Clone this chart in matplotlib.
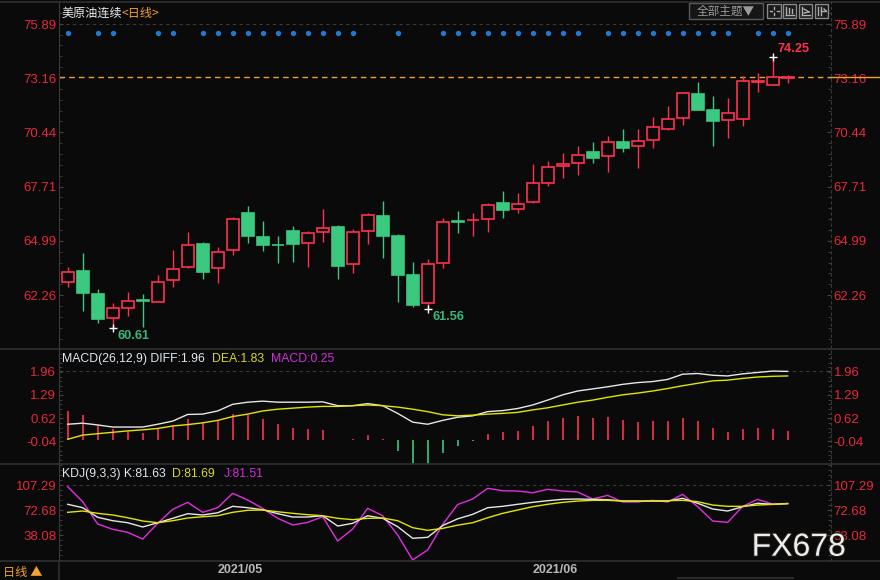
import numpy as np
import matplotlib.pyplot as plt
import matplotlib.patheffects as pe
from matplotlib.lines import Line2D
from matplotlib.patches import Rectangle
from matplotlib.ticker import FixedLocator, AutoMinorLocator

plt.rcParams['font.family'] = ['Liberation Sans', 'DejaVu Sans']
CJK = ['Noto Sans CJK SC', 'DejaVu Sans']

# ---- data ------------------------------------------------------------------
opens  = [62.94, 63.48, 62.30, 61.10, 61.60, 61.99, 61.93, 63.02, 63.66, 64.82,
          63.61, 64.52, 66.39, 65.17, 64.80, 65.49, 64.87, 65.42, 65.67, 63.81,
          65.47, 66.23, 65.22, 63.26, 61.85, 63.86, 65.97, 66.02, 66.11, 66.89,
          66.61, 66.96, 67.92, 68.74, 68.89, 69.46, 69.24, 69.96, 69.75, 70.05,
          70.60, 71.15, 72.37, 71.57, 71.05, 71.10, 73.00, 72.84, 73.20]
highs  = [63.69, 64.37, 62.57, 61.85, 62.40, 62.32, 63.27, 64.53, 65.45, 64.92,
          64.68, 66.19, 66.74, 65.99, 65.24, 65.74, 65.49, 66.59, 65.79, 65.59,
          66.41, 67.00, 65.32, 63.91, 64.08, 66.13, 66.49, 66.38, 66.91, 67.50,
          67.41, 68.86, 69.01, 69.39, 69.78, 69.96, 70.26, 70.61, 70.61, 71.22,
          71.77, 72.48, 72.98, 72.27, 72.17, 73.28, 73.42, 74.25, 73.32]
lows   = [62.69, 61.48, 60.88, 60.61, 61.23, 60.66, 61.90, 62.69, 63.64, 63.09,
          62.89, 64.28, 64.90, 64.50, 63.89, 63.94, 63.69, 64.95, 63.09, 63.36,
          64.85, 64.11, 61.93, 61.68, 61.56, 63.64, 65.40, 65.25, 65.45, 66.16,
          66.41, 66.91, 67.76, 68.17, 68.32, 68.91, 68.47, 69.46, 68.67, 69.67,
          70.58, 70.82, 71.57, 69.78, 70.18, 70.78, 72.49, 72.82, 72.95]
closes = [63.44, 62.38, 61.05, 61.60, 61.95, 61.95, 62.91, 63.56, 64.77, 63.44,
          64.42, 66.07, 65.25, 64.80, 64.76, 64.85, 65.37, 65.62, 63.74, 65.42,
          66.28, 65.25, 63.29, 61.78, 63.81, 65.95, 65.93, 66.06, 66.78, 66.56,
          66.83, 67.90, 68.69, 68.86, 69.31, 69.17, 69.95, 69.67, 70.00, 70.70,
          71.10, 72.41, 71.59, 71.03, 71.40, 73.03, 73.03, 73.21, 73.24]

signal_idx = [0, 2, 3, 6, 7, 9, 10, 11, 12, 13, 14, 15, 16, 17, 18, 19, 22, 25,
              26, 27, 28, 29, 30, 31, 32, 33, 34, 36, 37, 38, 39, 40, 41, 42,
              43, 44, 46, 47, 48]
low_marks = [3, 24]
high_marks = [47]

diff = [0.45, 0.48, 0.43, 0.37, 0.37, 0.37, 0.45, 0.54, 0.73, 0.74, 0.83, 1.02,
        1.08, 1.11, 1.08, 1.08, 1.08, 1.09, 0.98, 0.98, 1.04, 0.98, 0.76, 0.51,
        0.45, 0.56, 0.65, 0.69, 0.81, 0.84, 0.90, 1.00, 1.14, 1.29, 1.40, 1.46,
        1.52, 1.59, 1.64, 1.67, 1.73, 1.88, 1.90, 1.85, 1.83, 1.89, 1.93, 1.97, 1.96]
dea  = [0.02, 0.14, 0.18, 0.22, 0.26, 0.29, 0.33, 0.40, 0.44, 0.49, 0.56, 0.67,
        0.74, 0.83, 0.88, 0.91, 0.94, 0.96, 0.96, 0.98, 1.00, 0.98, 0.94, 0.88,
        0.81, 0.72, 0.69, 0.71, 0.74, 0.76, 0.79, 0.86, 0.92, 1.00, 1.08, 1.14,
        1.22, 1.29, 1.34, 1.40, 1.47, 1.55, 1.62, 1.69, 1.71, 1.76, 1.80, 1.82, 1.83]
macd = [0.83, 0.71, 0.43, 0.31, 0.26, 0.20, 0.31, 0.40, 0.60, 0.51, 0.57, 0.74,
        0.71, 0.60, 0.46, 0.34, 0.31, 0.29, -0.01, 0.03, 0.14, 0.03, -0.31, -0.68,
        -0.68, -0.36, -0.17, -0.02, 0.18, 0.23, 0.26, 0.40, 0.54, 0.63, 0.69, 0.63,
        0.66, 0.57, 0.51, 0.54, 0.54, 0.63, 0.54, 0.34, 0.23, 0.31, 0.34, 0.31, 0.25]

k_val = [80.6, 75.9, 62.6, 57.9, 55.1, 49.2, 55.1, 61.2, 67.6, 65.8, 68.9, 77.8,
         75.9, 73.1, 67.6, 63.0, 63.0, 64.8, 50.5, 54.3, 64.8, 61.2, 49.6, 33.5,
         34.9, 51.2, 60.5, 66.7, 75.9, 77.8, 80.6, 83.3, 85.6, 87.5, 87.9, 87.5,
         87.0, 85.1, 85.1, 85.1, 85.1, 88.9, 82.0, 74.1, 71.3, 77.3, 82.0, 80.6, 81.63]
d_val = [69.5, 71.3, 68.1, 65.8, 62.0, 57.5, 55.1, 57.9, 61.6, 63.4, 64.8, 69.5,
         72.3, 72.7, 70.3, 68.1, 66.2, 64.8, 61.2, 59.3, 61.2, 61.6, 57.9, 48.2,
         44.6, 47.3, 51.7, 55.1, 62.0, 68.1, 72.7, 77.3, 80.6, 83.3, 85.1, 86.1,
         86.1, 85.1, 85.1, 85.1, 85.6, 86.1, 84.2, 79.6, 77.8, 77.8, 79.6, 80.5, 81.69]
j_val = [105.0, 84.2, 53.3, 46.0, 41.8, 32.5, 54.3, 73.6, 83.3, 69.5, 75.9, 95.8,
         86.5, 75.0, 61.2, 51.9, 55.6, 63.4, 29.8, 46.4, 75.0, 64.8, 38.1, 3.5,
         17.3, 52.6, 80.3, 87.9, 102.7, 99.4, 99.0, 96.6, 101.3, 99.0, 97.6, 87.9,
         93.0, 83.8, 83.8, 86.1, 83.8, 94.4, 77.3, 57.5, 55.6, 77.8, 87.5, 80.8, 81.51]

price_ticks = [62.26, 64.99, 67.71, 70.44, 73.16, 75.89]
macd_ticks = [-0.04, 0.62, 1.29, 1.96]
kdj_ticks = [38.08, 72.68, 107.29]
date_pos = [10, 31]
date_labels = ['2021/05', '2021/06']

# ---- colours ---------------------------------------------------------------
BG = '#0a0a0a'
RED = '#ff3050'
GREEN = '#3bc87f'
AXRED = '#e6283c'
ORANGE = '#f0a030'
WHITE = '#e6e6e6'
YELLOW = '#e4e400'
MAGENTA = '#e030e0'
SEP = '#303030'

W, H = 880, 580


def box(x0, y0, x1, y1):
    return [x0 / W, 1 - y1 / H, (x1 - x0) / W, (y1 - y0) / H]


def fx(x):
    return x / W


def fy(y):
    return 1 - y / H


fig = plt.figure(figsize=(8.8, 5.8), dpi=100, facecolor=BG)

ax1 = fig.add_axes(box(59, 2, 831, 348))
ax2 = fig.add_axes(box(59, 349, 831, 464))
ax3 = fig.add_axes(box(59, 464, 831, 561))

n = len(closes)
x = np.arange(n)

for ax, ticks, lim in [(ax1, price_ticks, (59.60, 77.00)),
                       (ax2, macd_ticks, (-0.686, 2.60)),
                       (ax3, kdj_ticks, (2.1, 136.4))]:
    ax.set_facecolor(BG)
    ax.set_xlim(-0.58, 50.89)
    ax.set_ylim(*lim)
    ax.spines['top'].set_visible(False)
    ax.spines['bottom'].set_visible(False)
    ax.spines['left'].set_color('#3a3a3a')
    ax.spines['right'].set_color('#3a3a3a')
    ax.spines['right'].set_linestyle((0, (2, 3)))
    ax.yaxis.set_major_locator(FixedLocator(ticks))
    ax.yaxis.set_major_formatter(plt.FuncFormatter(lambda v, p: f'{v:.2f}'))
    ax.yaxis.set_minor_locator(AutoMinorLocator(5))
    ax.tick_params(axis='y', which='both', direction='in', left=True, right=True,
                   labelleft=True, labelright=True, color='#444444',
                   labelcolor=AXRED, labelsize=9.5, pad=2)
    ax.tick_params(axis='y', which='major', length=3)
    ax.tick_params(axis='y', which='minor', length=2)
    ax.tick_params(axis='x', which='both', bottom=False, labelbottom=False)
    ax.axhline(ticks[-1], color='#3a3a3a', lw=0.8, ls=(0, (3, 3)), zorder=1)

# ---- price panel -----------------------------------------------------------
o = np.array(opens)
c = np.array(closes)
up = c >= o
cols = np.where(up, RED, GREEN)
ax1.vlines(x, lows, highs, colors=cols, lw=1, zorder=2)
body_lo = np.minimum(o, c)
body_h = np.maximum(np.abs(c - o), 0.04)
ax1.bar(x, body_h, 0.82, bottom=body_lo, color=np.where(up, BG, GREEN),
        edgecolor=cols, linewidth=1.2, zorder=3)

ax1.plot(x[signal_idx], np.full(len(signal_idx), 0.910), 'o', ms=2.8,
         color='#1f7bd0', transform=ax1.get_xaxis_transform(), zorder=4)

ax1.axhline(closes[-1], color=ORANGE, lw=1, ls=(0, (4, 3)), zorder=1)
ax1.plot([1.0, (W - 59) / 772], [closes[-1]] * 2, color=ORANGE, lw=1,
         transform=ax1.get_yaxis_transform(), clip_on=False)

for i in low_marks:
    ax1.plot(i, lows[i], '+', color='white', ms=6, mew=1, zorder=5)
    ax1.annotate(f'{lows[i]:.2f}', (i, lows[i]), xytext=(3.2, -5.6),
                 textcoords='offset points', color='#35b87a', fontsize=9.2,
                 fontweight='bold', ha='left', va='center')
for i in high_marks:
    ax1.plot(i, highs[i], '+', color='white', ms=6, mew=1, zorder=5)
    ax1.annotate(f'{highs[i]:.2f}', (i, highs[i]), xytext=(3.6, 5.3),
                 textcoords='offset points', color=RED, fontsize=9.2,
                 fontweight='bold', ha='left', va='center')

# ---- MACD panel ------------------------------------------------------------
m = np.array(macd)
ax2.vlines(x, 0, m, colors=np.where(m >= 0, RED, GREEN), lw=1.2, zorder=2)
ax2.plot(x, diff, color=WHITE, lw=1, zorder=3)
ax2.plot(x, dea, color=YELLOW, lw=1, zorder=3)

# ---- KDJ panel -------------------------------------------------------------
ax3.plot(x, k_val, color=WHITE, lw=1, zorder=3)
ax3.plot(x, d_val, color=YELLOW, lw=1, zorder=3)
ax3.plot(x, j_val, color=MAGENTA, lw=1, zorder=2)

ax3.set_xticks(date_pos)
ax3.set_xticklabels(date_labels)
ax3.tick_params(axis='x', bottom=True, labelbottom=True, length=0, pad=2.5,
                labelsize=9, labelcolor='#b8b8b8')
for t in ax3.get_xticklabels():
    t.set_ha('left')
    t.set_fontweight('bold')

# ---- headers ---------------------------------------------------------------
hdr = dict(fontsize=8.8, va='center', ha='left')
fig.text(fx(61.7), fy(358.7), f'MACD(26,12,9) DIFF:{diff[-1]:.2f}', color='#dfe6ee', **hdr)
fig.text(fx(211.7), fy(358.7), f'DEA:{dea[-1]:.2f}', color='#d8d820', **hdr)
fig.text(fx(270.7), fy(358.7), f'MACD:{macd[-1]:.2f}', color='#d030d8', **hdr)
fig.text(fx(61.7), fy(474.3), f'KDJ(9,3,3) K:{k_val[-1]:.2f}', color='#dfe6ee', **hdr)
fig.text(fx(172.3), fy(474.3), f'D:{d_val[-1]:.2f}', color='#d8d820', **hdr)
fig.text(fx(224), fy(474.3), f'J:{j_val[-1]:.2f}', color='#d030d8', **hdr)

fig.text(fx(61.7), fy(13.3), '美原油连续', color='#ececec', fontsize=8.7,
         family=CJK, va='center', ha='left')
fig.text(fx(121.7), fy(13.3), '<日线>', color=ORANGE, fontsize=8.7,
         family=CJK, va='center', ha='left')

# top-right toolbar
fig.patches.append(Rectangle((fx(689.3), fy(18.7)), (763.3 - 689.3) / W, 15.4 / H,
                             transform=fig.transFigure, facecolor='#161616',
                             edgecolor='#5a5a5a', lw=1))
fig.text(fx(726), fy(11.2), '全部主题▼', color='#9a9a9a', fontsize=8.4,
         family=CJK, va='center', ha='center')
for bx in [767.3, 783.0, 799.0, 815.0]:
    fig.patches.append(Rectangle((fx(bx), fy(17.8)), 13.3 / W, 13.5 / H,
                                 transform=fig.transFigure, facecolor='#1a1a1a',
                                 edgecolor='#8a8a8a', lw=1))
icon_lines = [
    [(770, 11), (772, 11)], [(777, 11), (779, 11)], [(774, 7), (774, 9)], [(774, 13), (774, 15)],
    [(786, 7), (786, 15)], [(786, 15), (794, 15)], [(789, 8), (789, 13)], [(792, 9), (792, 13)],
    [(802, 7), (802, 15)], [(802, 15), (810, 15)], [(804, 9), (809, 12)], [(804, 13), (809, 12)],
    [(818, 7), (818, 15)], [(821, 7), (821, 15)], [(821, 11), (826, 11)], [(824, 9), (826, 11)],
]
for (xa, ya), (xb, yb) in icon_lines:
    fig.lines.append(Line2D([fx(xa), fx(xb)], [fy(ya), fy(yb)], color='#b0b0b0',
                            lw=1, transform=fig.transFigure))

# separators and frame lines
for yy in [1.5, 348.5, 464, 561]:
    fig.lines.append(Line2D([0, 1], [fy(yy), fy(yy)], color=SEP, lw=1.2,
                            transform=fig.transFigure))
fig.lines.append(Line2D([fx(59), fx(59)], [fy(561), 0], color=SEP, lw=1.2,
                        transform=fig.transFigure))
fig.lines.append(Line2D([fx(678), fx(793)], [fy(578), fy(578)], color='#2a2a2a',
                        lw=1.5, transform=fig.transFigure))

fig.text(fx(3), fy(572.5), '日线 ▲', color=ORANGE, fontsize=8.8, family=CJK,
         va='center', ha='left')

fig.text(fx(751.7), fy(555.7), 'FX678', color='#e9eef3', fontsize=23,
         va='baseline', ha='left',
         path_effects=[pe.withStroke(linewidth=1.5, foreground='#2a1e14')])

fig.savefig('out.png', dpi=100, facecolor=BG)
